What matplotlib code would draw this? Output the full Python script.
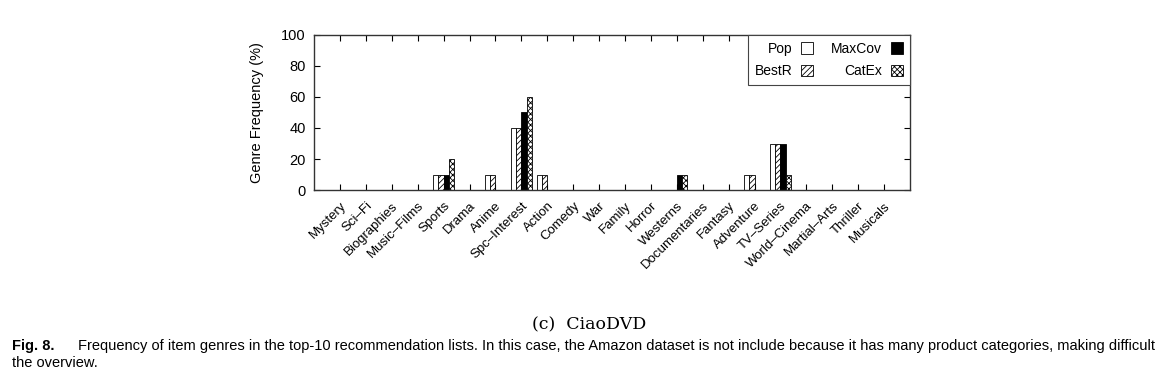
import numpy as np
import matplotlib
matplotlib.use('Agg')
import matplotlib.pyplot as plt
from matplotlib.patches import Patch

plt.rcParams['font.family'] = ['Liberation Sans', 'DejaVu Sans']
plt.rcParams['hatch.linewidth'] = 0.6

# genres on the x axis
genres = ['Mystery', 'Sci–Fi', 'Biographies', 'Music–Films', 'Sports', 'Drama',
          'Anime', 'Spc–Interest', 'Action', 'Comedy', 'War', 'Family', 'Horror',
          'Westerns', 'Documentaries', 'Fantasy', 'Adventure', 'TV–Series',
          'World–Cinema', 'Martial–Arts', 'Thriller', 'Musicals']

# frequency (%) per method
pop    = [0, 0, 0, 0, 10, 0, 10, 40, 10, 0, 0, 0, 0, 0, 0, 0, 10, 30, 0, 0, 0, 0]
bestr  = [0, 0, 0, 0, 10, 0, 10, 40, 10, 0, 0, 0, 0, 0, 0, 0, 10, 30, 0, 0, 0, 0]
maxcov = [0, 0, 0, 0, 10, 0, 0, 50, 0, 0, 0, 0, 0, 10, 0, 0, 0, 30, 0, 0, 0, 0]
catex  = [0, 0, 0, 0, 20, 0, 0, 60, 0, 0, 0, 0, 0, 10, 0, 0, 0, 10, 0, 0, 0, 0]

series = [('Pop', pop, 'white', ''),
          ('BestR', bestr, 'white', '//////'),
          ('MaxCov', maxcov, 'black', ''),
          ('CatEx', catex, 'white', 'xxxxxx')]

fig = plt.figure(figsize=(11.7, 3.9), dpi=100)
ax = fig.add_axes([0.2684, 0.5128, 0.5094, 0.3975])

x = np.arange(len(genres))
w = 0.2
for i, (name, vals, fc, hatch) in enumerate(series):
    vals = np.array(vals)
    keep = vals > 0
    ax.bar(x[keep] + (i - 1.5) * w, vals[keep], width=w, color=fc,
           edgecolor='black', hatch=hatch, linewidth=0.6)

ax.set_xlim(-1, len(genres))
ax.set_ylim(0, 100)
ax.set_yticks(range(0, 101, 20))
ax.set_xticks(x)
ax.set_xticklabels(genres, rotation=45, ha='right', rotation_mode='anchor',
                   fontsize=9.5)
ax.tick_params(direction='in', top=True, right=True, length=4, width=0.8)
ax.tick_params(axis='y', labelsize=10.5, pad=6)
ax.tick_params(axis='x', pad=7)
ax.set_ylabel('Genre Frequency (%)', fontsize=10.5, labelpad=12)
for s in ax.spines.values():
    s.set_linewidth(1.0)
    s.set_color('#333333')

handles = [Patch(facecolor=fc, edgecolor='black', hatch=h, linewidth=0.6, label=n)
           for n, _, fc, h in series]
leg = ax.legend(handles=handles, ncol=2, loc='upper right', markerfirst=False,
                fontsize=10, handlelength=0.9, handleheight=0.9,
                fancybox=False, edgecolor='#444444', framealpha=1,
                borderaxespad=0, columnspacing=1.3, handletextpad=0.6,
                borderpad=0.5, labelspacing=0.6)
leg.get_frame().set_linewidth(0.8)

fig.text(589 / 1170, 1 - 325 / 390, '(c)  CiaoDVD', ha='center', va='center',
         fontsize=12.5, family='DejaVu Serif')

cap_font = ['Liberation Sans', 'DejaVu Sans']
fig.text(12 / 1170, 1 - 346 / 390, 'Fig. 8.', ha='left', va='center',
         fontsize=10.5, fontweight='bold', family=cap_font)
fig.text(78 / 1170, 1 - 346 / 390,
         'Frequency of item genres in the top-10 recommendation lists. In this case, '
         'the Amazon dataset is not include because it has many product categories, '
         'making difficult', ha='left', va='center', fontsize=10.5, family=cap_font)
fig.text(12 / 1170, 1 - 363 / 390, 'the overview.', ha='left', va='center',
         fontsize=10.5, family=cap_font)

fig.savefig('out.png', dpi=100)
